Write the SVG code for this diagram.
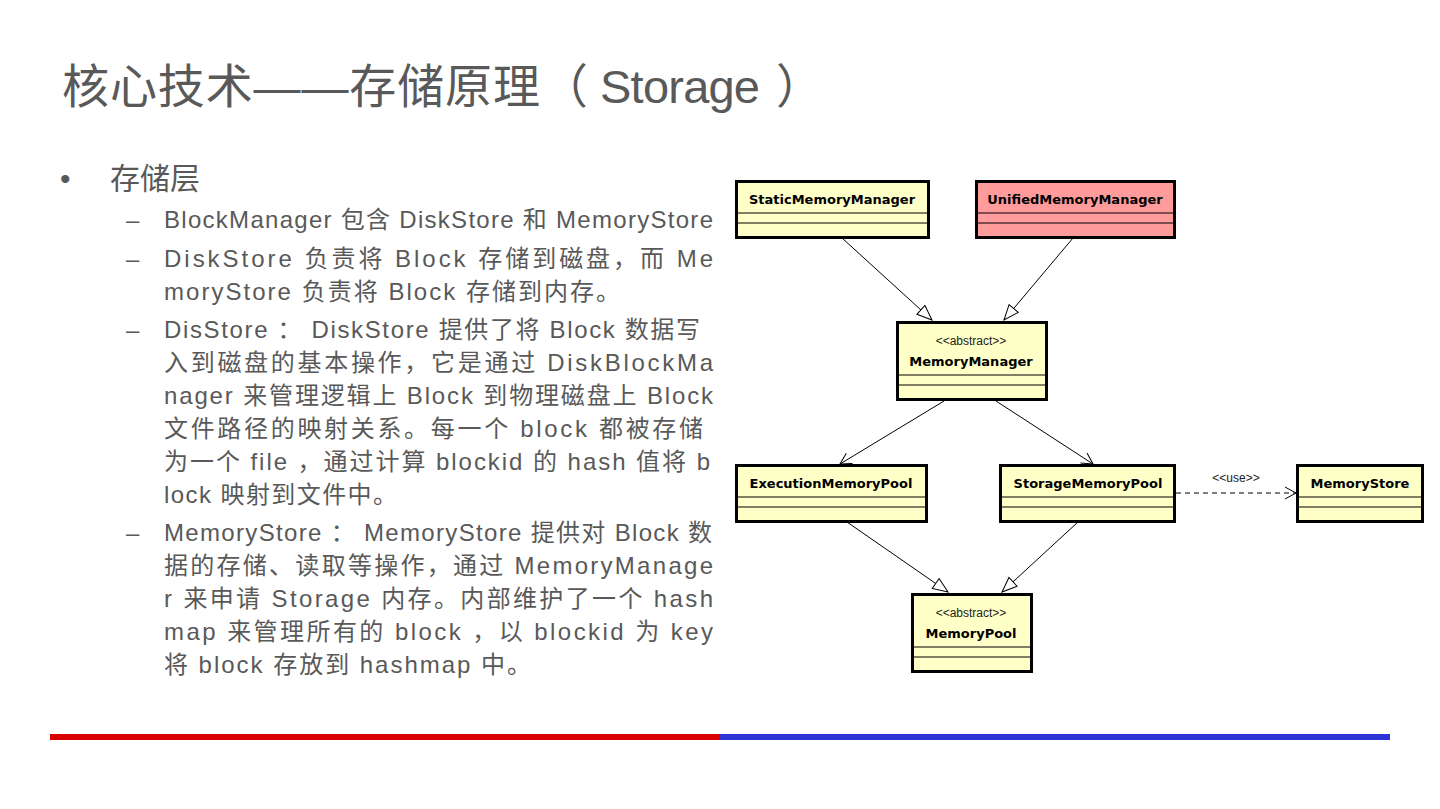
<svg xmlns="http://www.w3.org/2000/svg" width="1440" height="809" viewBox="0 0 1440 809">
<style>
.title{font-family:"Liberation Sans","Noto Sans CJK SC",sans-serif;font-size:47px;fill:#595959}
.l1{font-family:"Liberation Sans","Noto Sans CJK SC",sans-serif;font-size:30px;fill:#595959}
.l2{font-family:"Liberation Sans","Noto Sans CJK SC",sans-serif;font-size:24px;fill:#595959}
.box{fill:#ffffc8;stroke:#000;stroke-width:3}
.pink{fill:#ff9b9b}
.sep{stroke:#000;stroke-width:1.2}
.name{font-family:"DejaVu Sans","Liberation Sans",sans-serif;font-size:13px;font-weight:bold;fill:#000;text-anchor:middle}
.stereo{font-family:"Liberation Sans",sans-serif;font-size:12px;fill:#222;text-anchor:middle}
.edge{stroke:#000;stroke-width:1;fill:none}
</style>
<defs>
<marker id="tri" markerUnits="userSpaceOnUse" markerWidth="18" markerHeight="14" refX="16" refY="7" orient="auto">
<path d="M1,1 L16,7 L1,13 Z" fill="#fff" stroke="#000" stroke-width="1"/>
</marker>
<marker id="open" markerUnits="userSpaceOnUse" markerWidth="14" markerHeight="14" refX="12" refY="7" orient="auto">
<path d="M1,1 L12,7 L1,13" fill="none" stroke="#000" stroke-width="1"/>
</marker>
</defs>
<rect width="1440" height="809" fill="#fff"/>
<text class="title" y="103"><tspan x="62" textLength="478" lengthAdjust="spacing">核心技术——存储原理</tspan><tspan x="541">（</tspan><tspan x="600" textLength="160" lengthAdjust="spacing">Storage</tspan><tspan x="776">）</tspan></text>
<g id="text-body">
<text class="l1" x="60" y="189">•</text>
<text class="l1" x="110" y="189">存储层</text>
<text class="l2" x="126" y="228">–</text>
<text class="l2" x="164" y="228" textLength="549" lengthAdjust="spacing">BlockManager 包含 DiskStore 和 MemoryStore</text>
<text class="l2" x="126" y="267">–</text>
<text class="l2" x="164" y="267" textLength="549" lengthAdjust="spacing">DiskStore 负责将 Block 存储到磁盘，而 Me</text>
<text class="l2" x="164" y="300" textLength="456" lengthAdjust="spacing">moryStore 负责将 Block 存储到内存。</text>
<text class="l2" x="126" y="338">–</text>
<text class="l2" x="164" y="338" textLength="536" lengthAdjust="spacing">DisStore ： DiskStore 提供了将 Block 数据写</text>
<text class="l2" x="164" y="371" textLength="549" lengthAdjust="spacing">入到磁盘的基本操作，它是通过 DiskBlockMa</text>
<text class="l2" x="164" y="404" textLength="549" lengthAdjust="spacing">nager 来管理逻辑上 Block 到物理磁盘上 Block</text>
<text class="l2" x="164" y="437" textLength="539" lengthAdjust="spacing">文件路径的映射关系。每一个 block 都被存储</text>
<text class="l2" x="164" y="470" textLength="546" lengthAdjust="spacing">为一个 file ，通过计算 blockid 的 hash 值将 b</text>
<text class="l2" x="164" y="503" textLength="233" lengthAdjust="spacing">lock 映射到文件中。</text>
<text class="l2" x="126" y="541">–</text>
<text class="l2" x="164" y="541" textLength="548" lengthAdjust="spacing">MemoryStore ： MemoryStore 提供对 Block 数</text>
<text class="l2" x="164" y="574" textLength="549" lengthAdjust="spacing">据的存储、读取等操作，通过 MemoryManage</text>
<text class="l2" x="164" y="607" textLength="549" lengthAdjust="spacing">r 来申请 Storage 内存。内部维护了一个 hash</text>
<text class="l2" x="164" y="640" textLength="549" lengthAdjust="spacing">map 来管理所有的 block ，以 blockid 为 key</text>
<text class="l2" x="164" y="673" textLength="367" lengthAdjust="spacing">将 block 存放到 hashmap 中。</text>
</g>
<g id="connectors">
<line class="edge" x1="842" y1="238" x2="932" y2="320" marker-end="url(#tri)"/>
<line class="edge" x1="1073" y1="238" x2="1004" y2="320" marker-end="url(#tri)"/>
<line class="edge" x1="944" y1="401" x2="840" y2="464" marker-end="url(#open)"/>
<line class="edge" x1="996" y1="401" x2="1093" y2="464" marker-end="url(#open)"/>
<line class="edge" x1="847" y1="522" x2="948" y2="592" marker-end="url(#tri)"/>
<line class="edge" x1="1078" y1="522" x2="1002" y2="592" marker-end="url(#tri)"/>
<line class="edge" x1="1176" y1="493" x2="1296" y2="493" stroke-dasharray="5,4" marker-end="url(#open)"/>
<text class="stereo" x="1236" y="482" font-size="11">&lt;&lt;use&gt;&gt;</text>
</g>
<g id="StaticMemoryManager">
<rect class="box" x="736.5" y="181.5" width="192" height="56"/>
<line class="sep" x1="737" y1="213" x2="928" y2="213"/>
<line class="sep" x1="737" y1="223" x2="928" y2="223"/>
<text class="name" x="832" y="204">StaticMemoryManager</text>
</g>
<g id="UnifiedMemoryManager">
<rect class="box pink" x="976.5" y="181.5" width="198" height="56"/>
<line class="sep" x1="977" y1="213" x2="1174" y2="213"/>
<line class="sep" x1="977" y1="223" x2="1174" y2="223"/>
<text class="name" x="1075" y="204">UnifiedMemoryManager</text>
</g>
<g id="MemoryManager">
<rect class="box" x="897.5" y="322.5" width="149" height="77"/>
<line class="sep" x1="898" y1="375" x2="1046" y2="375"/>
<line class="sep" x1="898" y1="385" x2="1046" y2="385"/>
<text class="stereo" x="971" y="345">&lt;&lt;abstract&gt;&gt;</text>
<text class="name" x="971" y="366">MemoryManager</text>
</g>
<g id="ExecutionMemoryPool">
<rect class="box" x="736.5" y="465.5" width="190" height="56"/>
<line class="sep" x1="737" y1="497" x2="926" y2="497"/>
<line class="sep" x1="737" y1="507" x2="926" y2="507"/>
<text class="name" x="831" y="488">ExecutionMemoryPool</text>
</g>
<g id="StorageMemoryPool">
<rect class="box" x="1000.5" y="465.5" width="174" height="56"/>
<line class="sep" x1="1001" y1="497" x2="1174" y2="497"/>
<line class="sep" x1="1001" y1="507" x2="1174" y2="507"/>
<text class="name" x="1088" y="488">StorageMemoryPool</text>
</g>
<g id="MemoryStore">
<rect class="box" x="1297.5" y="465.5" width="125" height="56"/>
<line class="sep" x1="1298" y1="497" x2="1422" y2="497"/>
<line class="sep" x1="1298" y1="507" x2="1422" y2="507"/>
<text class="name" x="1360" y="488">MemoryStore</text>
</g>
<g id="MemoryPool">
<rect class="box" x="912.5" y="594.5" width="119" height="77"/>
<line class="sep" x1="913" y1="647" x2="1031" y2="647"/>
<line class="sep" x1="913" y1="657" x2="1031" y2="657"/>
<text class="stereo" x="971" y="617">&lt;&lt;abstract&gt;&gt;</text>
<text class="name" x="971" y="638">MemoryPool</text>
</g>
<rect x="50" y="734" width="670" height="6" fill="#d80000"/>
<rect x="720" y="734" width="670" height="6" fill="#2e33d6"/>
</svg>
